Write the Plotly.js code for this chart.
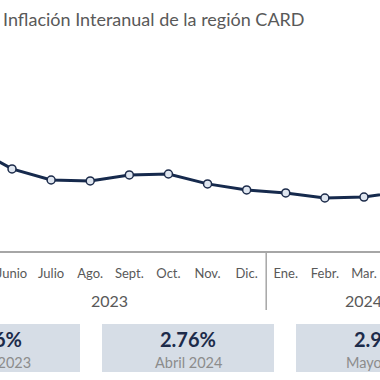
<!DOCTYPE html>
<html>
<head>
<meta charset="utf-8">
<script src="https://cdn.plot.ly/plotly-3.0.1.min.js"></script>
<style>html,body{margin:0;padding:0;background:#fff;}#chart{width:380px;height:380px;}</style>
</head>
<body>
<div id="chart"></div>
<script>
// Data
var months = ['Mayo','Junio','Julio','Ago.','Sept.','Oct.','Nov.','Dic.','Ene.','Febr.','Mar.','Abril','Mayo'];
var monthYear = ['2023','2023','2023','2023','2023','2023','2023','2023','2024','2024','2024','2024','2024'];
var inflation = [4.26, 3.53, 3.16, 3.13, 3.33, 3.36, 3.03, 2.83, 2.73, 2.56, 2.59, 2.76, 2.96];
var years = ['2023','2024'];
var boxValues = ['4.26%','2.76%','2.96%'];
var boxLabels = ['Mayo 2023','Abril 2024','Mayo 2024'];

var W = 380, H = 380, plotTop = 40, plotBottom = 251;
function px(x){ return x / W; }
function py(y){ return (plotBottom - y) / (plotBottom - plotTop); }

var idx = months.map(function(_, i){ return i; });

// year groups
var yearCenters = years.map(function(y){
  var ii = idx.filter(function(i){ return monthYear[i] === y; });
  return (ii[0] + ii[ii.length-1]) / 2;
});
var seps = [-0.5];
for (var i = 1; i < months.length; i++) if (monthYear[i] !== monthYear[i-1]) seps.push(i - 0.5);
seps.push(months.length - 0.5);

var shapes = seps.map(function(s){
  return {type:'line', xref:'x', yref:'paper', x0:s, x1:s, y0:0, y1:py(310),
          line:{color:'#a6a6a6', width:1.5}};
});
var annotations = years.map(function(y, k){
  return {xref:'x', yref:'paper', x:yearCenters[k], y:py(300), text:y, showarrow:false,
          xanchor:'center', yanchor:'middle', font:{family:'Lato, sans-serif', size:16, color:'#595959'}};
});
var boxCenters = [-6, 188, 382], boxW = 172;
boxValues.forEach(function(v, k){
  var c = boxCenters[k];
  shapes.push({type:'rect', xref:'paper', yref:'paper', x0:px(c - boxW/2), x1:px(c + boxW/2),
               y0:py(372), y1:py(324), fillcolor:'#d6dde6', line:{width:0}, layer:'below'});
  annotations.push({xref:'paper', yref:'paper', x:px(c), y:py(339), text:'<b>'+v+'</b>', showarrow:false,
                    xanchor:'center', yanchor:'middle', font:{family:'Lato, sans-serif', size:20, color:'#1c2b4a'}});
  annotations.push({xref:'paper', yref:'paper', x:px(c), y:py(362), text:boxLabels[k], showarrow:false,
                    xanchor:'center', yanchor:'middle', font:{family:'Lato, sans-serif', size:14.5, color:'#8c8c8c'}});
});

var trace = {
  x: idx, y: inflation, type:'scatter', mode:'lines+markers',
  line:{color:'#162a4d', width:3},
  marker:{size:8, color:'#dfe6f0', line:{color:'#1c2b4a', width:1.5}},
  hoverinfo:'skip', cliponaxis:true
};

var layout = {
  width: W, height: H,
  margin:{l:0, r:0, t:plotTop, b:H - plotBottom, pad:0},
  paper_bgcolor:'#ffffff', plot_bgcolor:'#ffffff',
  showlegend:false,
  title:{text:'Inflación Interanual de la región CARD', x:0.008, xanchor:'left', xref:'container',
         y:1 - 20/H, yref:'container', yanchor:'middle',
         font:{family:'Lato, sans-serif', size:18, color:'#595959'}},
  xaxis:{range:[0.693, 10.41], tickmode:'array', tickvals:idx, ticktext:months,
         showgrid:false, zeroline:false, showline:true, linecolor:'#a6a6a6', linewidth:1.5,
         ticks:'outside', ticklen:10, tickcolor:'rgba(0,0,0,0)', ticklabeloverflow:'allow',
         tickfont:{family:'Lato, sans-serif', size:13, color:'#595959'}, fixedrange:true},
  yaxis:{range:[0.793, 7.827], visible:false, fixedrange:true},
  shapes: shapes,
  annotations: annotations
};
Plotly.newPlot('chart', [trace], layout, {staticPlot:true, displayModeBar:false});
</script>
</body>
</html>
